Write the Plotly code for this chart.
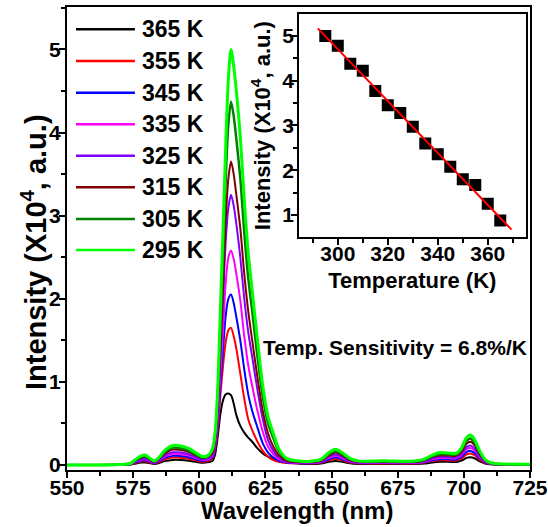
import numpy as np
import plotly.graph_objects as go

# ---------------- data ----------------
wavelength = [550, 570, 574, 576, 578, 579.5, 581, 583, 585, 587, 590, 593, 596, 599, 601.5, 603.5,
              605, 606, 607, 608, 609, 610, 611, 612, 613, 614, 615.5, 617, 618.5, 620, 622, 624, 626, 628, 630, 633, 637,
              642, 646, 649, 651.5, 654, 657, 660, 670, 680, 685, 688, 691, 694, 697, 699, 701, 702.5, 704, 706, 708, 710, 713, 725]

series_labels = ["365 K", "355 K", "345 K", "335 K", "325 K", "315 K", "305 K", "295 K"]
series_colors = ["#000000", "#FF0000", "#0000FF", "#FF00FF", "#8000FF", "#800000", "#008000", "#00FF00"]

I_365 = [0.0, 0.001, 0.005, 0.018, 0.029, 0.031, 0.023, 0.013, 0.026, 0.047, 0.061, 0.06, 0.052, 0.036, 0.026, 0.035,
         0.05, 0.13, 0.35, 0.62, 0.78, 0.85, 0.86, 0.84, 0.74, 0.6, 0.47, 0.39, 0.33, 0.28, 0.2, 0.14, 0.1, 0.07, 0.05, 0.03, 0.02,
         0.012, 0.018, 0.039, 0.049, 0.039, 0.021, 0.013, 0.013, 0.012, 0.018, 0.031, 0.039, 0.038, 0.036, 0.052, 0.086, 0.094, 0.081, 0.044, 0.018, 0.008, 0.004, 0.003]
I_355 = [0.0, 0.002, 0.008, 0.027, 0.042, 0.046, 0.034, 0.019, 0.038, 0.068, 0.09, 0.087, 0.076, 0.053, 0.038, 0.05,
         0.08, 0.2, 0.45, 0.85, 1.2, 1.48, 1.62, 1.65, 1.55, 1.4, 1.1, 0.8, 0.55, 0.42, 0.28, 0.17, 0.1, 0.06, 0.04, 0.025, 0.02,
         0.017, 0.027, 0.057, 0.072, 0.057, 0.03, 0.019, 0.019, 0.017, 0.027, 0.046, 0.057, 0.055, 0.053, 0.076, 0.125, 0.137, 0.118, 0.065, 0.027, 0.011, 0.006, 0.004]
I_345 = [0.0, 0.002, 0.01, 0.033, 0.052, 0.056, 0.042, 0.024, 0.047, 0.085, 0.11, 0.108, 0.094, 0.066, 0.047, 0.065,
         0.09, 0.22, 0.5, 0.95, 1.4, 1.8, 2.0, 2.05, 1.95, 1.78, 1.5, 1.15, 0.85, 0.65, 0.45, 0.26, 0.15, 0.09, 0.05, 0.03, 0.02,
         0.021, 0.033, 0.07, 0.09, 0.07, 0.038, 0.024, 0.024, 0.021, 0.033, 0.056, 0.07, 0.068, 0.066, 0.094, 0.155, 0.17, 0.146, 0.08, 0.033, 0.014, 0.007, 0.005]
I_335 = [0.0, 0.003, 0.011, 0.04, 0.063, 0.068, 0.05, 0.028, 0.057, 0.1, 0.134, 0.13, 0.114, 0.08, 0.057, 0.075,
         0.11, 0.25, 0.55, 1.1, 1.65, 2.2, 2.5, 2.58, 2.48, 2.3, 1.98, 1.55, 1.2, 0.95, 0.65, 0.4, 0.22, 0.13, 0.07, 0.035, 0.025,
         0.026, 0.04, 0.085, 0.11, 0.085, 0.045, 0.028, 0.028, 0.026, 0.04, 0.068, 0.085, 0.083, 0.08, 0.115, 0.19, 0.205, 0.177, 0.097, 0.04, 0.017, 0.009, 0.006]
I_325 = [0.0, 0.003, 0.013, 0.045, 0.07, 0.078, 0.058, 0.033, 0.065, 0.117, 0.153, 0.15, 0.13, 0.09, 0.065, 0.085,
         0.13, 0.3, 0.65, 1.3, 2.0, 2.7, 3.1, 3.25, 3.12, 2.9, 2.5, 2.0, 1.6, 1.3, 0.9, 0.55, 0.3, 0.17, 0.09, 0.04, 0.03,
         0.03, 0.045, 0.1, 0.125, 0.1, 0.052, 0.033, 0.033, 0.03, 0.045, 0.078, 0.1, 0.095, 0.09, 0.13, 0.215, 0.235, 0.2, 0.11, 0.045, 0.02, 0.01, 0.007]
I_315 = [0.0, 0.004, 0.015, 0.055, 0.085, 0.095, 0.07, 0.04, 0.08, 0.14, 0.185, 0.18, 0.155, 0.11, 0.08, 0.1,
         0.15, 0.32, 0.72, 1.42, 2.15, 2.95, 3.45, 3.65, 3.5, 3.25, 2.85, 2.3, 1.85, 1.5, 1.05, 0.65, 0.38, 0.22, 0.12, 0.05, 0.035,
         0.035, 0.055, 0.115, 0.15, 0.115, 0.06, 0.04, 0.04, 0.035, 0.055, 0.095, 0.115, 0.115, 0.11, 0.155, 0.255, 0.28, 0.24, 0.13, 0.055, 0.025, 0.012, 0.008]
I_305 = [0.0, 0.005, 0.02, 0.06, 0.1, 0.105, 0.08, 0.045, 0.09, 0.16, 0.21, 0.2, 0.175, 0.12, 0.09, 0.11,
         0.18, 0.36, 0.85, 1.7, 2.55, 3.45, 4.1, 4.37, 4.2, 3.92, 3.45, 2.8, 2.25, 1.85, 1.3, 0.82, 0.5, 0.32, 0.17, 0.07, 0.045,
         0.04, 0.06, 0.13, 0.17, 0.13, 0.07, 0.045, 0.045, 0.04, 0.06, 0.105, 0.13, 0.13, 0.125, 0.18, 0.29, 0.32, 0.27, 0.15, 0.06, 0.025, 0.012, 0.008]
I_295 = [0.0, 0.005, 0.02, 0.07, 0.11, 0.12, 0.09, 0.05, 0.1, 0.18, 0.235, 0.23, 0.2, 0.14, 0.1, 0.12,
         0.2, 0.4, 0.95, 1.9, 2.85, 3.85, 4.65, 5.0, 4.8, 4.5, 3.95, 3.2, 2.55, 2.1, 1.5, 0.95, 0.58, 0.38, 0.2, 0.08, 0.05,
         0.045, 0.07, 0.15, 0.19, 0.15, 0.08, 0.05, 0.05, 0.045, 0.07, 0.12, 0.15, 0.145, 0.14, 0.2, 0.33, 0.36, 0.31, 0.17, 0.07, 0.03, 0.015, 0.01]

spectra = [I_365, I_355, I_345, I_335, I_325, I_315, I_305, I_295]
line_widths = [2, 2, 2, 2, 2, 2, 2.5, 3]

# inset data
temperature = [295, 300, 305, 310, 315, 320, 325, 330, 335, 340, 345, 350, 355, 360, 365]
peak_intensity = [5.0, 4.78, 4.38, 4.22, 3.77, 3.45, 3.28, 2.97, 2.60, 2.36, 2.08, 1.80, 1.67, 1.25, 0.88]
fit_range = [292, 369.5]

main_xticks = [550, 575, 600, 625, 650, 675, 700, 725]
main_yticks = [0, 1, 2, 3, 4, 5]
inset_xticks = [300, 320, 340, 360]
inset_yticks = [1, 2, 3, 4, 5]

# ---------------- figure ----------------
FONT = "Liberation Sans"
W, H = 548, 527
ml, mr, mt, mb = 67, 17.5, 7, 57
PW, PH = W - ml - mr, H - mt - mb

def px2paper_x(px):
    return (px - ml) / PW

def px2paper_y(py):
    return (H - mb - py) / PH

fig = go.Figure()

for lab, col, ys, lw in zip(series_labels, series_colors, spectra, line_widths):
    fig.add_trace(go.Scatter(x=wavelength, y=ys, mode="lines", name=lab,
                             line=dict(color=col, width=lw, shape="spline", smoothing=0.8),
                             showlegend=False, xaxis="x", yaxis="y"))

coef = np.polyfit(temperature, peak_intensity, 1)
fit_y = [float(np.polyval(coef, t)) for t in fit_range]

fig.add_trace(go.Scatter(x=temperature, y=peak_intensity, mode="markers",
                         marker=dict(symbol="square", size=12, color="black"),
                         showlegend=False, xaxis="x2", yaxis="y2"))
fig.add_trace(go.Scatter(x=fit_range, y=fit_y, mode="lines",
                         line=dict(color="#FF0000", width=2),
                         showlegend=False, xaxis="x2", yaxis="y2"))

# manual legend
legend_y_px = [29.3, 61, 92.7, 124.3, 155.7, 187.3, 219, 250]
shapes = []
annotations = []
for lab, col, ypx in zip(series_labels, series_colors, legend_y_px):
    yp = px2paper_y(ypx)
    shapes.append(dict(type="line", xref="paper", yref="paper",
                       x0=px2paper_x(76), x1=px2paper_x(135), y0=yp, y1=yp,
                       line=dict(color=col, width=2.5)))
    annotations.append(dict(xref="paper", yref="paper", x=px2paper_x(140), y=yp,
                            text=lab, showarrow=False, xanchor="left", yanchor="middle",
                            font=dict(family=FONT, size=23, color="black", weight="bold")))

annotations.append(dict(xref="paper", yref="paper", x=px2paper_x(395.5), y=px2paper_y(347),
                        text="Temp. Sensitivity = 6.8%/K", showarrow=False,
                        xanchor="center", yanchor="middle",
                        font=dict(family=FONT, size=21, color="black", weight="bold")))

# main axis titles
annotations.append(dict(xref="paper", yref="paper", x=px2paper_x(297), y=px2paper_y(510),
                        text="Wavelength (nm)", showarrow=False,
                        xanchor="center", yanchor="middle",
                        font=dict(family=FONT, size=24, color="black", weight="bold")))
annotations.append(dict(xref="paper", yref="paper", x=px2paper_x(34), y=px2paper_y(252),
                        text="Intensity (X10<sup>4</sup>, a.u.)", showarrow=False, textangle=-90,
                        xanchor="center", yanchor="middle",
                        font=dict(family=FONT, size=29, color="black", weight="bold")))

tickfont = dict(family=FONT, size=21, color="black", weight="bold")

fig.update_layout(
    width=W, height=H,
    margin=dict(l=ml, r=mr, t=mt, b=mb, autoexpand=False),
    paper_bgcolor="white", plot_bgcolor="white",
    shapes=shapes, annotations=annotations,
    xaxis=dict(domain=[0, 1], range=[550, 725], tickvals=main_xticks,
               ticks="outside", ticklen=6, tickwidth=2, tickcolor="black", ticklabelstandoff=-8,
               minor=dict(dtick=12.5, tick0=550, ticks="outside", ticklen=4, tickwidth=2, tickcolor="black"),
               showline=True, linewidth=2, linecolor="black", mirror=True,
               showgrid=False, zeroline=False, tickfont=tickfont),
    yaxis=dict(domain=[0, 1], range=[-0.06, 5.51], tickvals=main_yticks,
               ticks="outside", ticklen=6, tickwidth=2, tickcolor="black", ticklabelstandoff=-6,
               minor=dict(dtick=0.5, tick0=0, ticks="outside", ticklen=4, tickwidth=2, tickcolor="black"),
               showline=True, linewidth=2, linecolor="black", mirror=True,
               showgrid=False, zeroline=False, tickfont=tickfont),
    xaxis2=dict(domain=[px2paper_x(299.3), px2paper_x(526)], anchor="y2",
                range=[284.5, 375.1], tickvals=inset_xticks,
                ticks="outside", ticklen=6, tickwidth=2, tickcolor="black", ticklabelstandoff=-10,
                minor=dict(dtick=10, tick0=290, ticks="outside", ticklen=4, tickwidth=2, tickcolor="black"),
                showline=True, linewidth=2, linecolor="black", mirror=True,
                showgrid=False, zeroline=False, tickfont=tickfont,
                title=dict(text="Temperature (K)", standoff=9,
                           font=dict(family=FONT, size=22, color="black", weight="bold"))),
    yaxis2=dict(domain=[px2paper_y(237.3), px2paper_y(14)], anchor="x2",
                range=[0.503, 5.49], tickvals=inset_yticks,
                ticks="outside", ticklen=6, tickwidth=2, tickcolor="black", ticklabelstandoff=-7,
                minor=dict(dtick=0.5, tick0=0, ticks="outside", ticklen=4, tickwidth=2, tickcolor="black"),
                showline=True, linewidth=2, linecolor="black", mirror=True,
                showgrid=False, zeroline=False, tickfont=tickfont,
                title=dict(text="Intensity (X10<sup>4</sup>, a.u.)", standoff=5,
                           font=dict(family=FONT, size=22, color="black", weight="bold"))),
)

fig.write_html("out.html", config={"displayModeBar": False},
               post_script="document.body.style.margin='0px';document.body.style.overflow='hidden';")
